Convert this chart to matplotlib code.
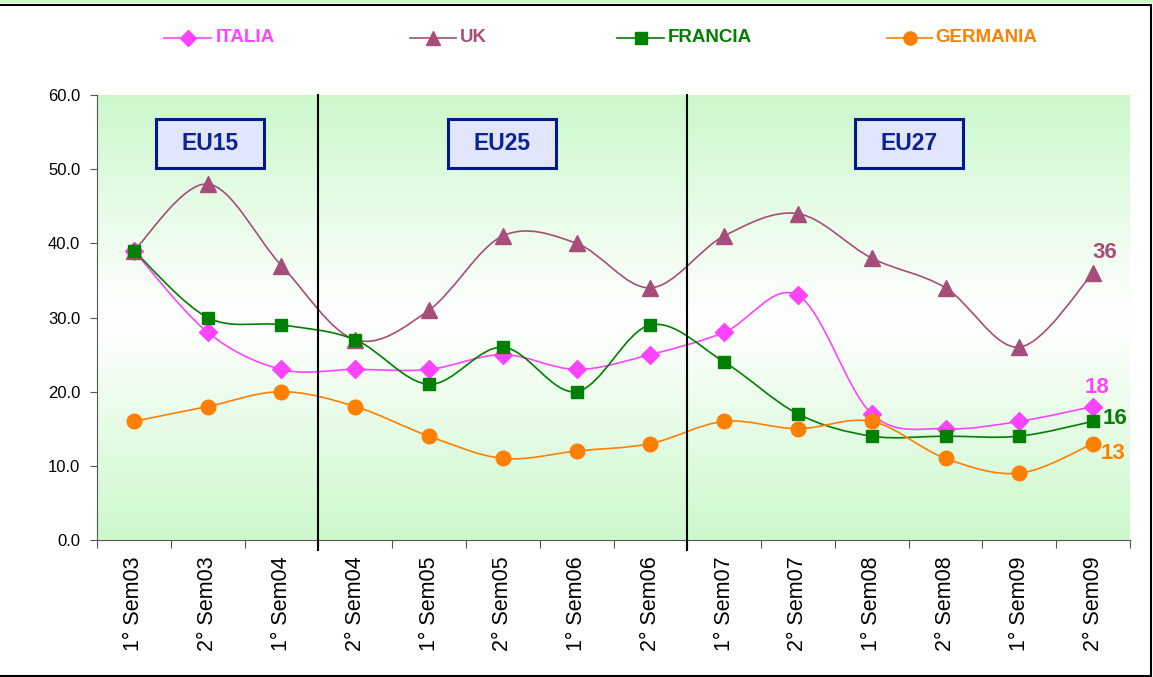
import numpy as np
import matplotlib
matplotlib.use("Agg")
import matplotlib.pyplot as plt
from matplotlib.path import Path
from matplotlib.patches import PathPatch, Rectangle
from matplotlib.colors import LinearSegmentedColormap
from matplotlib.lines import Line2D

plt.rcParams['font.family'] = ['Liberation Sans', 'DejaVu Sans']

categories = ['1° Sem03', '2° Sem03', '1° Sem04', '2° Sem04', '1° Sem05', '2° Sem05',
              '1° Sem06', '2° Sem06', '1° Sem07', '2° Sem07', '1° Sem08', '2° Sem08',
              '1° Sem09', '2° Sem09']
italia = [39, 28, 23, 23, 23, 25, 23, 25, 28, 33, 17, 15, 16, 18]
uk = [39, 48, 37, 27, 31, 41, 40, 34, 41, 44, 38, 34, 26, 36]
francia = [39, 30, 29, 27, 21, 26, 20, 29, 24, 17, 14, 14, 14, 16]
germania = [16, 18, 20, 18, 14, 11, 12, 13, 16, 15, 16, 11, 9, 13]
periods = ['EU15', 'EU25', 'EU27']
period_breaks = [3, 8]

W, H = 1153, 677
fig = plt.figure(figsize=(W / 100, H / 100), dpi=100)
ax = fig.add_axes([97 / W, 1 - 540 / H, 1033 / W, 445 / H])

# green - white - green background
cmap = LinearSegmentedColormap.from_list('bg', ['#ccf8cc', '#ffffff', '#ccf8cc'])
ax.imshow(np.linspace(0, 1, 256).reshape(-1, 1), cmap=cmap, aspect='auto',
          extent=[0, 1, 0, 1], transform=ax.transAxes, zorder=0)

x = np.arange(len(categories)) + 0.5


def smooth_path(xs, ys):
    pts = np.column_stack([xs, ys]).astype(float)
    verts = [pts[0]]
    codes = [Path.MOVETO]
    n = len(pts)
    for i in range(n - 1):
        p0 = pts[max(i - 1, 0)]
        p1 = pts[i]
        p2 = pts[i + 1]
        p3 = pts[min(i + 2, n - 1)]
        verts += [p1 + (p2 - p0) / 6.0, p2 - (p3 - p1) / 6.0, p2]
        codes += [Path.CURVE4] * 3
    return Path(verts, codes)


series = [
    ('ITALIA', italia, '#ff44ff', 'D', 9.5),
    ('UK', uk, '#a64d79', '^', 11),
    ('FRANCIA', francia, '#008000', 's', 9),
    ('GERMANIA', germania, '#ff7f00', 'o', 10.5),
]

for name, vals, col, mk, ms in series:
    ax.add_patch(PathPatch(smooth_path(x, vals), facecolor='none', edgecolor=col,
                           lw=1.2, zorder=3))
    ax.plot(x, vals, linestyle='none', marker=mk, color=col, markersize=ms, zorder=4)

for b in period_breaks:
    ax.plot([b, b], [-1.4, 60], color='black', lw=1.5, clip_on=False, zorder=5)

# period boxes
box_x = [1.53, 5.49, 11.0]
for lab, bx in zip(periods, box_x):
    ax.add_patch(Rectangle((bx - 0.73, 50.2), 1.46, 6.6, facecolor='#e2e6fc',
                           edgecolor='#001a8c', lw=2.2, zorder=6))
    ax.text(bx, 53.5, lab, ha='center', va='center', fontsize=16.5, fontweight='bold',
            color='#0a2496', zorder=7)

end_labels = [(36, 13.66, 38.8, '#a64d79'), (18, 13.55, 20.5, '#ff44ff'),
              (16, 13.8, 16.4, '#008000'), (13, 13.77, 11.7, '#ff7f00')]
for val, lx, ly, col in end_labels:
    ax.text(lx, ly, str(val), ha='center', va='center', fontsize=16,
            fontweight='bold', color=col, zorder=7)

ax.set_xlim(0, 14)
ax.set_ylim(0, 60)
ax.set_yticks(np.arange(0, 61, 10))
ax.set_yticklabels([f'{v:.1f}' for v in np.arange(0, 61, 10)], fontsize=12)
ax.set_xticks(np.arange(0, 15))
ax.set_xticklabels([])
ax.set_xticks(x, minor=True)
ax.set_xticklabels(categories, minor=True, rotation=90, fontsize=15.5)
ax.tick_params(axis='x', which='minor', length=0, pad=12)
ax.tick_params(axis='x', which='major', length=6, direction='out', color='#555555')
ax.tick_params(axis='y', length=5, direction='out', color='#555555', pad=7)
for s in ['top', 'right']:
    ax.spines[s].set_visible(False)
for s in ['left', 'bottom']:
    ax.spines[s].set_color('#555555')

# legend drawn by hand to match the uneven spacing
leg_pos = [(164, 211, 216), (410, 456, 460), (617, 664, 668), (887, 932, 935)]
ly = 1 - 38 / H
for (name, vals, col, mk, ms), (x0, x1, tx) in zip(series, leg_pos):
    fig.add_artist(Line2D([x0 / W, x1 / W], [ly, ly], color=col, lw=1.2,
                          transform=fig.transFigure))
    fig.add_artist(Line2D([(x0 + x1) / 2 / W], [ly], color=col, marker=mk,
                          markersize=ms - 1, transform=fig.transFigure))
    fig.text(tx / W, ly, name, ha='left', va='center', fontsize=13.5,
             fontweight='bold', color=col)

# outer frame
fig.patches.append(Rectangle((0, 1 - 3 / H), 1, 3 / H, transform=fig.transFigure,
                             facecolor='#ccf8cc', edgecolor='none'))
fig.patches.append(Rectangle((-0.01, 1.5 / H), 1 + 0.01 - 2 / W, 1 - 6 / H,
                             transform=fig.transFigure, fill=False,
                             edgecolor='black', lw=1.5))

fig.savefig('out.png', dpi=100)
